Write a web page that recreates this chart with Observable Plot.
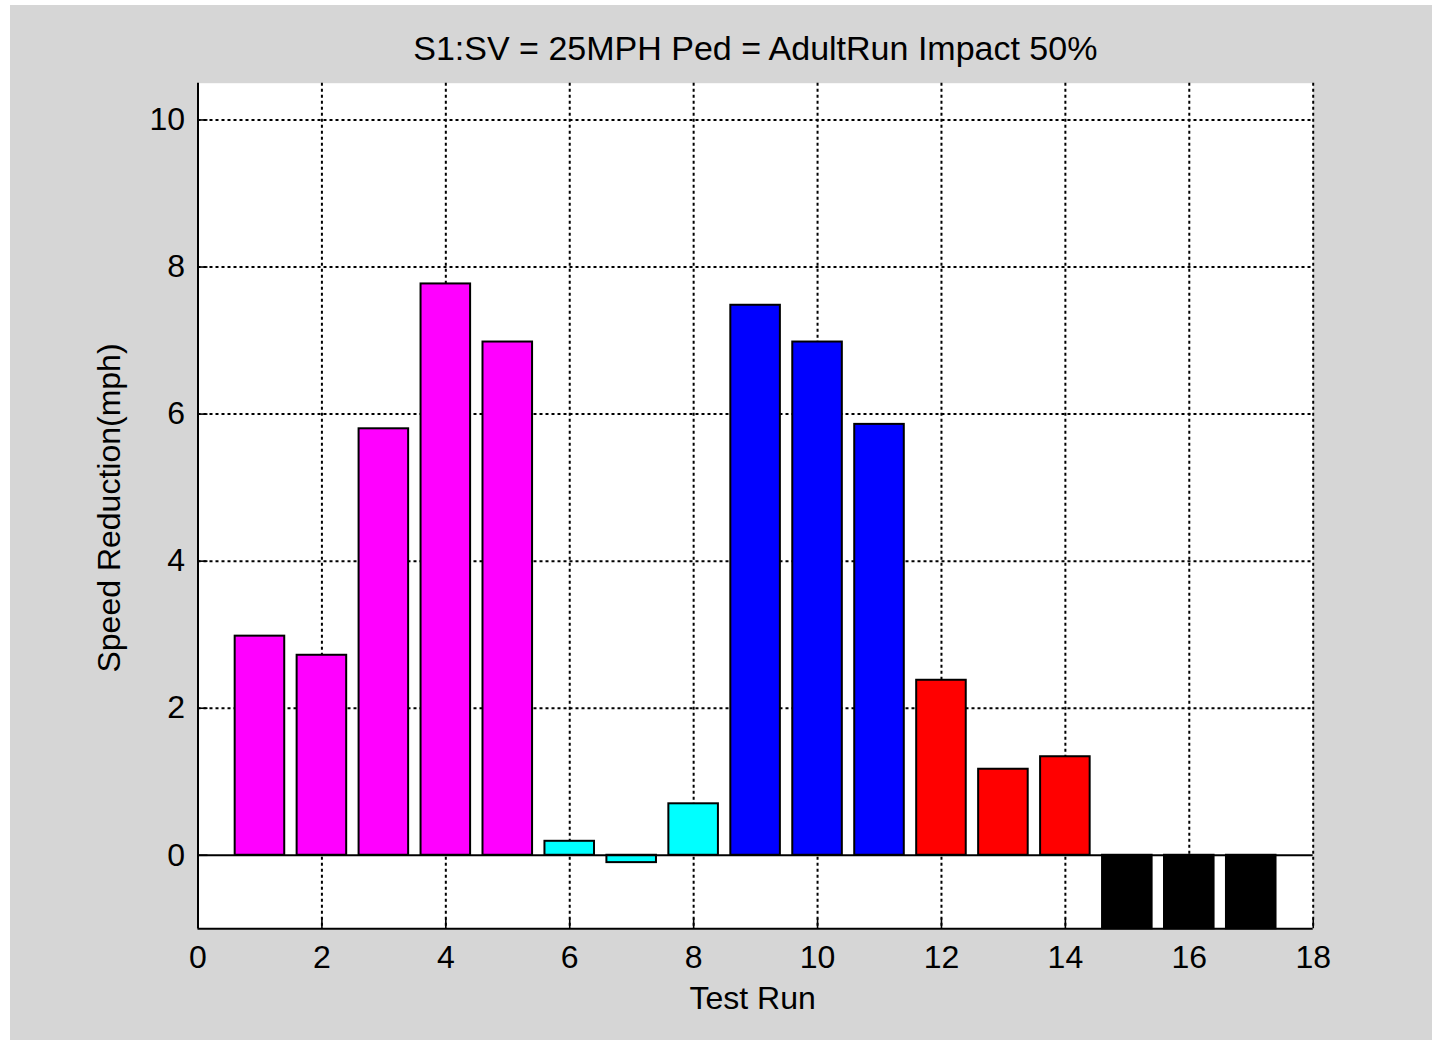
<!DOCTYPE html>
<html>
<head>
<meta charset="utf-8">
<script src="https://cdn.jsdelivr.net/npm/d3@7"></script>
<script src="https://cdn.jsdelivr.net/npm/@observablehq/plot@0.6"></script>
<style>
  html, body { margin: 0; padding: 0; background: #ffffff; }
  #fig { position: absolute; left: 10px; top: 5px; width: 1422px; height: 1035px; background: #d6d6d6; overflow: hidden; }
  #title { position: absolute; left: 188px; width: 1114.7px; top: 26px; text-align: center; font: 34px "Liberation Sans", Arial, sans-serif; line-height: 34px; color: #000; white-space: nowrap; }
  #chart { position: absolute; left: 0; top: 0; }
</style>
</head>
<body>
<div id="fig">
  <div id="chart"></div>
  <div id="title">S1:SV = 25MPH Ped = AdultRun Impact 50%</div>
</div>
<script>
// ---- data ----
const runs = [1, 2, 3, 4, 5, 6, 7, 8, 9, 10, 11, 12, 13, 14, 15, 16, 17];
const speedReduction = [2.98, 2.72, 5.80, 7.77, 6.98, 0.19, -0.10, 0.70, 7.48, 6.98, 5.86, 2.38, 1.17, 1.34, -1, -1, -1];
const barColors = ["#ff00ff", "#ff00ff", "#ff00ff", "#ff00ff", "#ff00ff",
                   "#00ffff", "#00ffff", "#00ffff",
                   "#0000ff", "#0000ff", "#0000ff",
                   "#ff0000", "#ff0000", "#ff0000",
                   "#000000", "#000000", "#000000"];
const xTicks = [0, 2, 4, 6, 8, 10, 12, 14, 16, 18];
const yTicks = [0, 2, 4, 6, 8, 10];
const xDomain = [0, 18];
const yDomain = [-1, 10.5];
const xLabel = "Test Run";
const yLabel = "Speed Reduction(mph)";

const bars = runs.map((r, i) => ({run: r, value: speedReduction[i], color: barColors[i]}));
const halfWidth = 0.4;

// ---- layout ----
const W = 1422, H = 1035;
const mL = 187.5, mR = 119.3, mT = 77.7, mB = 111.7;
const frameW = W - mL - mR, frameH = H - mT - mB;
const dash = "3,3";

const chart = Plot.plot({
  width: W,
  height: H,
  marginLeft: mL,
  marginRight: mR,
  marginTop: mT,
  marginBottom: mB,
  style: {background: "transparent", fontFamily: "'Liberation Sans', Arial, sans-serif", fontSize: "32px", color: "#000"},
  x: {domain: xDomain, ticks: xTicks},
  y: {domain: yDomain, ticks: yTicks},
  color: {type: "identity"},
  marks: [
    Plot.frame({fill: "white", stroke: null}),
    Plot.ruleX(xTicks.slice(1), {stroke: "black", strokeWidth: 2, strokeDasharray: dash}),
    Plot.ruleY(yTicks.slice(1), {stroke: "black", strokeWidth: 2, strokeDasharray: dash}),
    Plot.rectY(bars, {
      x1: d => d.run - halfWidth,
      x2: d => d.run + halfWidth,
      y1: 0,
      y2: "value",
      fill: "color",
      stroke: "black",
      strokeWidth: 2
    }),
    Plot.ruleY([0], {stroke: "black", strokeWidth: 2}),
    // inward tick marks
    Plot.tickX(xTicks, {x: d => d, stroke: "black", strokeWidth: 1.6, insetTop: frameH - 10}),
    Plot.tickY(yTicks, {y: d => d, stroke: "black", strokeWidth: 1.6, insetRight: frameW - 10}),
    // axis lines (left and bottom)
    Plot.ruleX([xDomain[0]], {stroke: "black", strokeWidth: 2}),
    Plot.ruleY([yDomain[0]], {stroke: "black", strokeWidth: 2}),
    Plot.axisX({ticks: xTicks, tickSize: 0, tickPadding: 16, label: null, fontSize: 32}),
    Plot.axisY({ticks: yTicks, tickSize: 0, tickPadding: 13, label: null, fontSize: 32}),
    Plot.text([xLabel], {frameAnchor: "bottom", dy: 70, lineAnchor: "middle", fontSize: 32, fill: "black", dx: -3}),
    Plot.text([yLabel], {frameAnchor: "left", dx: -88, rotate: -90, lineAnchor: "middle", textAnchor: "middle", fontSize: 32, fill: "black", dy: 2})
  ]
});
document.getElementById("chart").appendChild(chart);
</script>
</body>
</html>
